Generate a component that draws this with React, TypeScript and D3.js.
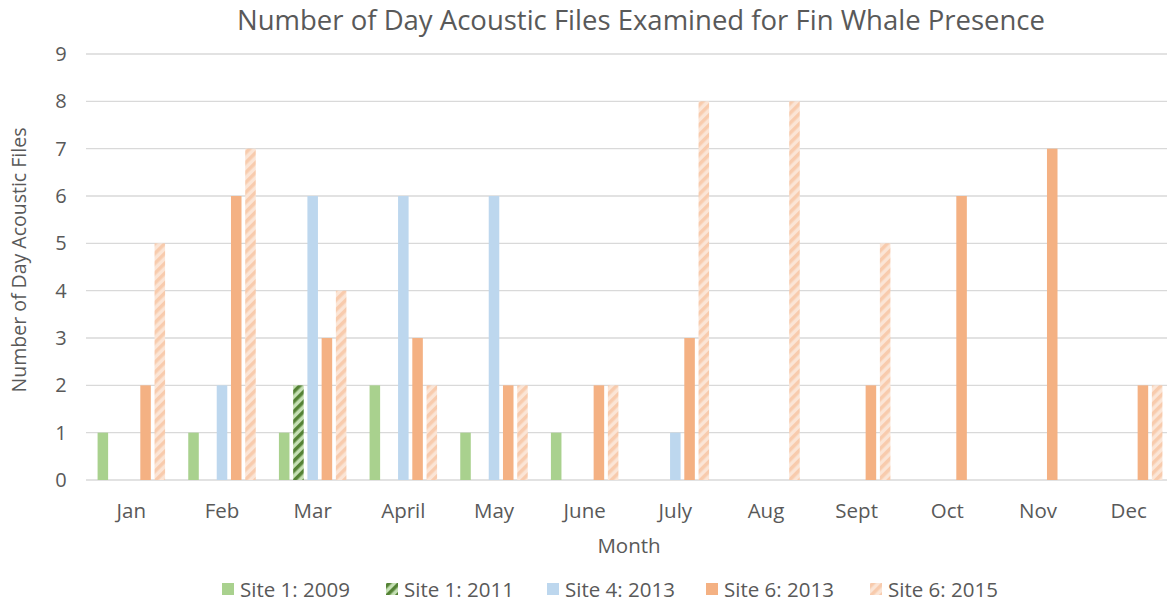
import React from "react";
import * as d3 from "d3";

const months = ["Jan", "Feb", "Mar", "April", "May", "June", "July", "Aug", "Sept", "Oct", "Nov", "Dec"];
const site1_2009 = [1, 1, 1, 2, 1, 1, 0, 0, 0, 0, 0, 0];
const site1_2011 = [0, 0, 2, 0, 0, 0, 0, 0, 0, 0, 0, 0];
const site4_2013 = [0, 2, 6, 6, 6, 0, 1, 0, 0, 0, 0, 0];
const site6_2013 = [2, 6, 3, 3, 2, 2, 3, 0, 2, 6, 7, 2];
const site6_2015 = [5, 7, 4, 2, 2, 2, 8, 8, 5, 0, 0, 2];
const seriesNames = ["Site 1: 2009", "Site 1: 2011", "Site 4: 2013", "Site 6: 2013", "Site 6: 2015"];
const yTicks = [0, 1, 2, 3, 4, 5, 6, 7, 8, 9];

const seriesData = [site1_2009, site1_2011, site4_2013, site6_2013, site6_2015];
const fills = ["#A9D18E", "url(#hatchGreen)", "#BDD7EE", "#F4B183", "url(#hatchPeach)"];

const W = 1167, H = 604;
const FONT = "'Open Sans', Lato, sans-serif";

export default function App() {
  const x = d3.scaleBand<string>().domain(months).range([86, 1174]).paddingInner(0).paddingOuter(0);
  const x1 = d3.scaleBand<number>().domain(d3.range(5)).range([0, 67.5]).paddingInner(0.26);
  const y = d3.scaleLinear().domain([0, 9]).range([480, 54]);
  const groupOffset = (x.bandwidth() - 67.5) / 2;

  const legendX = [222, 386, 547, 706, 870];

  return (
    <svg width={W} height={H} style={{ position: "absolute", left: 0, top: 0, background: "#fff" }} fontFamily={FONT}>
      <defs>
        <pattern id="hatchGreen" patternUnits="userSpaceOnUse" width="7" height="7" patternTransform="rotate(45)">
          <rect width="7" height="7" fill="#C5E0B4" />
          <rect width="3.5" height="7" fill="#548235" />
        </pattern>
        <pattern id="hatchPeach" patternUnits="userSpaceOnUse" width="7" height="7" patternTransform="rotate(45)">
          <rect width="7" height="7" fill="#FBE5D6" />
          <rect width="3.5" height="7" fill="#F8CBAD" />
        </pattern>
      </defs>
      <text x={641} y={30} textAnchor="middle" fontSize={27.5} fill="#595959">
        Number of Day Acoustic Files Examined for Fin Whale Presence
      </text>
      {yTicks.map((t) => (
        <g key={t}>
          <line x1={86} x2={1174} y1={y(t)} y2={y(t)} stroke="#D9D9D9" strokeWidth={1.3} />
          <text x={61} y={y(t) + 7} textAnchor="middle" fontSize={20} fill="#595959">{t}</text>
        </g>
      ))}
      {seriesData.map((arr, si) =>
        arr.map((v, mi) =>
          v > 0 ? (
            <rect
              key={`${si}-${mi}`}
              x={(x(months[mi]) as number) + groupOffset + (x1(si) as number)}
              y={y(v)}
              width={x1.bandwidth()}
              height={y(0) - y(v)}
              fill={fills[si]}
            />
          ) : null
        )
      )}
      {months.map((m) => (
        <text key={m} x={(x(m) as number) + x.bandwidth() / 2} y={518} textAnchor="middle" fontSize={20.5} fill="#595959">{m}</text>
      ))}
      <text x={629} y={553} textAnchor="middle" fontSize={20.5} fill="#595959">Month</text>
      <text transform="translate(26,260) rotate(-90)" textAnchor="middle" fontSize={19.5} fill="#595959">
        Number of Day Acoustic  Files
      </text>
      {seriesNames.map((n, i) => (
        <g key={n} transform={`translate(${legendX[i]},0)`}>
          <rect x={0} y={583} width={12} height={12} fill={fills[i]} />
          <text x={18} y={597} fontSize={20.5} fill="#595959">{n}</text>
        </g>
      ))}
    </svg>
  );
}
